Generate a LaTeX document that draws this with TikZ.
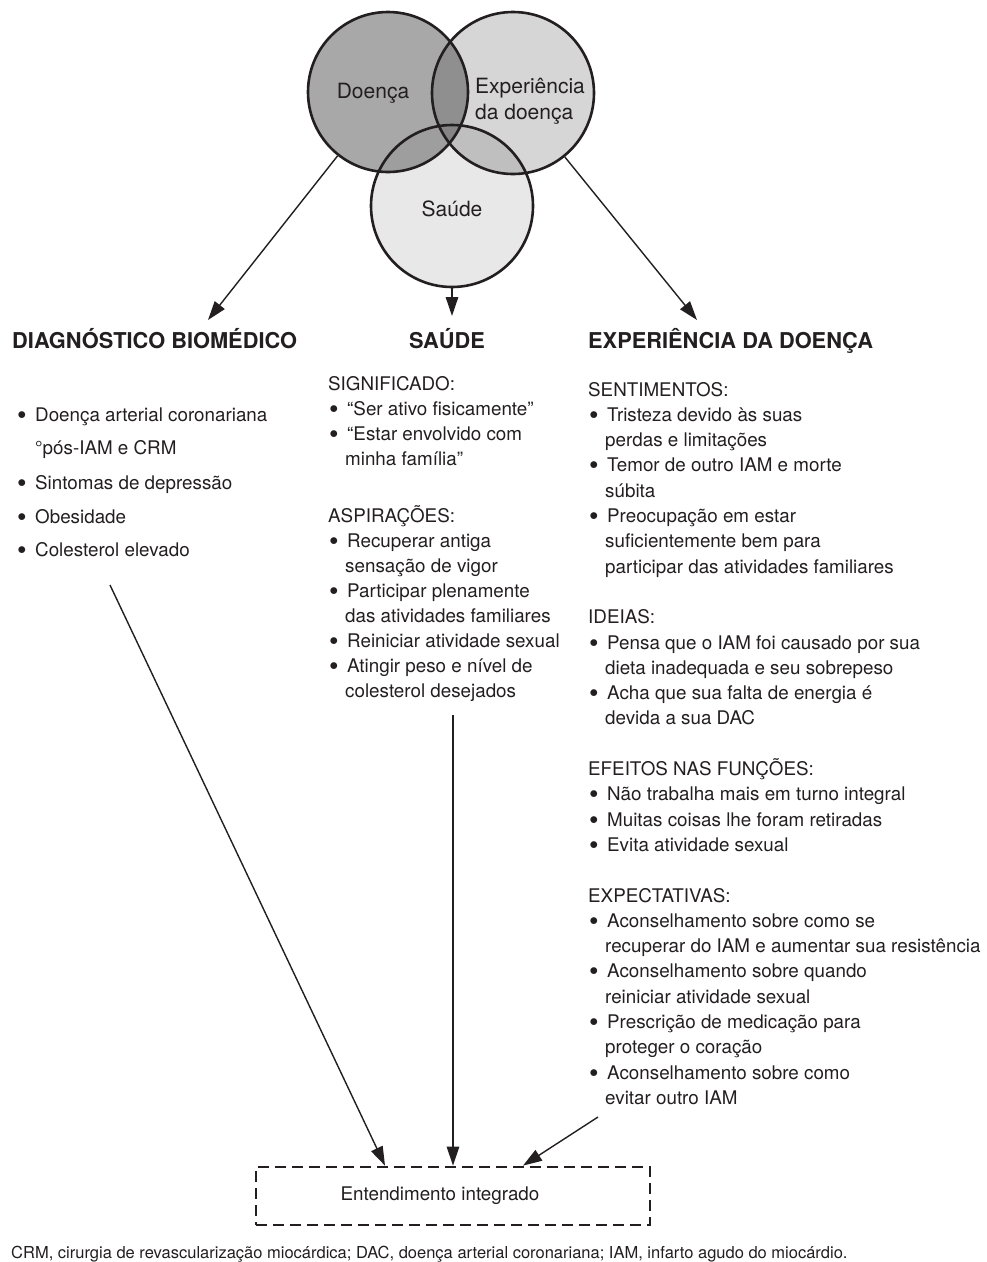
\documentclass[tikz,border=0pt]{standalone}
\usepackage{fontspec}
\setmainfont{TeX Gyre Heros}
\usetikzlibrary{arrows.meta,calc}

\definecolor{ink}{HTML}{231F20}
\definecolor{dfill}{gray}{0.66}
\definecolor{efill}{gray}{0.84}
\definecolor{sfill}{gray}{0.91}
\definecolor{defill}{gray}{0.56}
\definecolor{dsfill}{gray}{0.62}
\definecolor{esfill}{gray}{0.75}
\definecolor{allfill}{gray}{0.52}

% bullet with hanging indent for list items
\newcommand\bul{\makebox[19pt][l]{\hspace{1pt}\raisebox{-3pt}{\scalebox{1.45}{•}}}}
\newcommand\ind{\hspace*{17pt}}

\begin{document}
\begin{tikzpicture}[x=1pt,y=-1pt,
  venn/.style={circle, draw=ink, line width=2.6pt, inner sep=0pt},
  vlabel/.style={inner sep=0pt, text=ink, font=\fontsize{21pt}{26pt}\selectfont},
  head/.style={inner sep=0pt, text=ink, font=\fontsize{21.8pt}{24pt}\selectfont\bfseries},
  body/.style={inner sep=0pt, anchor=base west, text=ink, font=\fontsize{18.8pt}{22pt}\selectfont},
  arr/.style={draw=ink, line width=1.4pt, -{Triangle[length=19pt,width=12.5pt]}},
  dashbox/.style={draw=ink, line width=2.8pt, dash pattern=on 11pt off 6pt,
    minimum width=394pt, minimum height=58pt, inner sep=0pt, text=ink,
    font=\fontsize{18.8pt}{22pt}\selectfont}]
\useasboundingbox (0,0) rectangle (987,1262);

% ---- Venn diagram: fills and overlaps ----
\coordinate (cD) at (388,92);
\coordinate (cE) at (513,93);
\coordinate (cS) at (452,206);
\fill[dfill] (cD) circle[radius=80pt];
\fill[efill] (cE) circle[radius=81pt];
\fill[sfill] (cS) circle[radius=81pt];
\begin{scope}
  \clip (cE) circle[radius=81pt];
  \fill[esfill] (cS) circle[radius=81pt];
\end{scope}
\begin{scope}
  \clip (cD) circle[radius=80pt];
  \fill[defill] (cE) circle[radius=81pt];
  \fill[dsfill] (cS) circle[radius=81pt];
  \clip (cE) circle[radius=81pt];
  \fill[allfill] (cS) circle[radius=81pt];
\end{scope}
% outlines
\node[venn, minimum size=160pt] (D) at (cD) {};
\node[venn, minimum size=162pt] (E) at (cE) {};
\node[venn, minimum size=162pt] (S) at (cS) {};
% labels
\node[vlabel, anchor=base] (lD) at (373,98) {Doença};
\node[vlabel, anchor=base west] (lE1) at (475,93) {Experiência};
\node[vlabel, anchor=base west] (lE2) at (475,119) {da doença};
\node[vlabel, anchor=base] (lS) at (452,216) {Saúde};

% ---- column headings ----
\node[head, anchor=base west] (hB) at (12,348) {DIAGNÓSTICO BIOMÉDICO};
\node[head, anchor=base] (hS) at (447,348) {SAÚDE};
\node[head, anchor=base west] (hE) at (588,348) {EXPERIÊNCIA DA DOENÇA};

% arrows from the circles to the headings
\coordinate (tipB) at (208,320);
\coordinate (tipS) at (452,316);
\coordinate (tipE) at (697,320);
\draw[arr] (D) -- (tipB);
\draw[arr] (S) -- (tipS);
\draw[arr] (E) -- (tipE);

% ---- biomedical column ----
\foreach \y/\t [count=\i] in {
  421/{\bul Doença arterial coronariana},
  454/{\hspace*{19pt}°pós-IAM e CRM},
  489/{\bul Sintomas de depressão},
  523/{\bul Obesidade},
  556/{\bul Colesterol elevado}}
  \node[body] (b\i) at (16,\y) {\t};

% ---- health column ----
\foreach \y/\t [count=\i] in {
  390/{SIGNIFICADO:},
  415/{\bul “Ser ativo fisicamente”},
  440/{\bul “Estar envolvido com},
  465/{\ind minha família”},
  522/{ASPIRAÇÕES:},
  547/{\bul Recuperar antiga},
  572/{\ind sensação de vigor},
  597/{\bul Participar plenamente},
  622/{\ind das atividades familiares},
  647/{\bul Reiniciar atividade sexual},
  672/{\bul Atingir peso e nível de},
  697/{\ind colesterol desejados}}
  \node[body] (s\i) at (328,\y) {\t};

% ---- illness experience column ----
\foreach \n/\t in {
  0/{SENTIMENTOS:},
  1/{\bul Tristeza devido às suas},
  2/{\ind perdas e limitações},
  3/{\bul Temor de outro IAM e morte},
  4/{\ind súbita},
  5/{\bul Preocupação em estar},
  6/{\ind suficientemente bem para},
  7/{\ind participar das atividades familiares},
  9/{IDEIAS:},
  10/{\bul Pensa que o IAM foi causado por sua},
  11/{\ind dieta inadequada e seu sobrepeso},
  12/{\bul Acha que sua falta de energia é},
  13/{\ind devida a sua DAC},
  15/{EFEITOS NAS FUNÇÕES:},
  16/{\bul Não trabalha mais em turno integral},
  17/{\bul Muitas coisas lhe foram retiradas},
  18/{\bul Evita atividade sexual},
  20/{EXPECTATIVAS:},
  21/{\bul Aconselhamento sobre como se},
  22/{\ind recuperar do IAM e aumentar sua resistência},
  23/{\bul Aconselhamento sobre quando},
  24/{\ind reiniciar atividade sexual},
  25/{\bul Prescrição de medicação para},
  26/{\ind proteger o coração},
  27/{\bul Aconselhamento sobre como},
  28/{\ind evitar outro IAM}}
  \node[body] (e\n) at (588,{396+25.3*\n}) {\t};

% ---- integrated understanding ----
\node[dashbox] (integ) at (453,1196) {\hspace*{-26pt}Entendimento integrado};
\coordinate (fromB) at (110,585);
\coordinate (fromS) at (453,715);
\coordinate (fromE) at (598,1117);
\draw[arr] (fromB) -- ($(integ.north)+(-68,0)$);
\draw[arr] (fromS) -- (integ.north);
\draw[arr] (fromE) -- ($(integ.north)+(70,0)$);

% ---- footnote ----
\node[inner sep=0pt, anchor=base west, text=ink, font=\fontsize{16.5pt}{18pt}\selectfont] (fn) at (11,1258)
  {CRM, cirurgia de revascularização miocárdica; DAC, doença arterial coronariana; IAM, infarto agudo do miocárdio.};
\end{tikzpicture}
\end{document}
